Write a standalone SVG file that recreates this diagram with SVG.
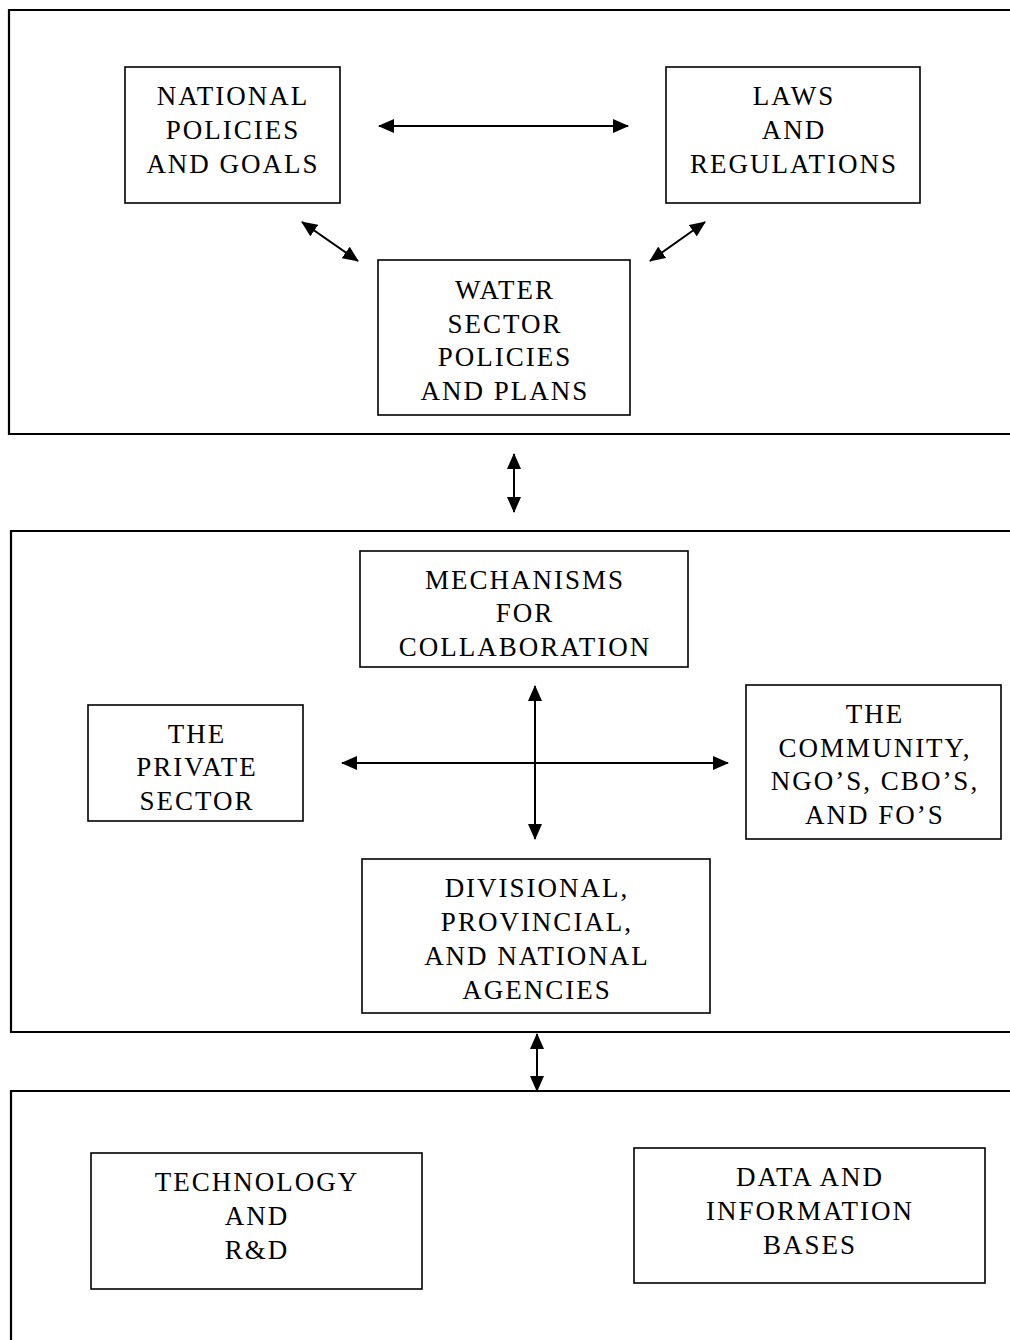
<svg xmlns="http://www.w3.org/2000/svg" width="1010" height="1340" viewBox="0 0 1010 1340">
<defs>
<marker id="ah" viewBox="0 0 16 14" refX="15" refY="7" markerWidth="16" markerHeight="14" markerUnits="userSpaceOnUse" orient="auto-start-reverse">
<path d="M0,0 L16,7 L0,14 Z" fill="#000"/>
</marker>
</defs>
<style>
.panel{fill:none;stroke:#000;stroke-width:2.2}
.box{fill:#fff;stroke:#000;stroke-width:1.6}
.t{font-family:"Liberation Serif","Times New Roman",serif;font-size:27px;letter-spacing:2px;fill:#000;text-anchor:middle}
.c{fill:none;stroke:#000;stroke-width:2;marker-start:url(#ah);marker-end:url(#ah)}
</style>
<rect width="1010" height="1340" fill="#fff"/>
<g id="panels">
<path class="panel" d="M1012,10 L9,10 L9,434 L1012,434"/>
<path class="panel" d="M1012,531 L11,531 L11,1032 L1012,1032"/>
<path class="panel" d="M1012,1091 L11,1091 L11,1342"/>
</g>
<g id="connectors">
<line class="c" x1="379" y1="126" x2="628" y2="126"/>
<line class="c" x1="302" y1="222" x2="358" y2="261"/>
<line class="c" x1="705" y1="222" x2="650" y2="261"/>
<line class="c" x1="514" y1="454" x2="514" y2="512"/>
<line class="c" x1="535" y1="686" x2="535" y2="839"/>
<line class="c" x1="342" y1="763" x2="728" y2="763"/>
<line class="c" x1="537" y1="1034" x2="537" y2="1091"/>
</g>
<g id="national">
<rect class="box" x="125" y="67" width="215" height="136"/>
<text class="t" x="233" y="105">NATIONAL</text>
<text class="t" x="233" y="139">POLICIES</text>
<text class="t" x="233" y="173">AND GOALS</text>
</g>
<g id="laws">
<rect class="box" x="666" y="67" width="254" height="136"/>
<text class="t" x="794" y="105">LAWS</text>
<text class="t" x="794" y="139">AND</text>
<text class="t" x="794" y="173">REGULATIONS</text>
</g>
<g id="water">
<rect class="box" x="378" y="260" width="252" height="155"/>
<text class="t" x="505" y="299">WATER</text>
<text class="t" x="505" y="333">SECTOR</text>
<text class="t" x="505" y="366">POLICIES</text>
<text class="t" x="505" y="400">AND PLANS</text>
</g>
<g id="mechanisms">
<rect class="box" x="360" y="551" width="328" height="116"/>
<text class="t" x="525" y="589">MECHANISMS</text>
<text class="t" x="525" y="622">FOR</text>
<text class="t" x="525" y="656">COLLABORATION</text>
</g>
<g id="private">
<rect class="box" x="88" y="705" width="215" height="116"/>
<text class="t" x="197" y="743">THE</text>
<text class="t" x="197" y="776">PRIVATE</text>
<text class="t" x="197" y="810">SECTOR</text>
</g>
<g id="community">
<rect class="box" x="746" y="685" width="255" height="154"/>
<text class="t" x="875" y="723">THE</text>
<text class="t" x="875" y="757">COMMUNITY,</text>
<text class="t" x="875" y="790">NGO’S, CBO’S,</text>
<text class="t" x="875" y="824">AND FO’S</text>
</g>
<g id="agencies">
<rect class="box" x="362" y="859" width="348" height="154"/>
<text class="t" x="537" y="897">DIVISIONAL,</text>
<text class="t" x="537" y="931">PROVINCIAL,</text>
<text class="t" x="537" y="965">AND NATIONAL</text>
<text class="t" x="537" y="999">AGENCIES</text>
</g>
<g id="technology">
<rect class="box" x="91" y="1153" width="331" height="136"/>
<text class="t" x="257" y="1191">TECHNOLOGY</text>
<text class="t" x="257" y="1225">AND</text>
<text class="t" x="257" y="1259">R&amp;D</text>
</g>
<g id="data">
<rect class="box" x="634" y="1148" width="351" height="135"/>
<text class="t" x="810" y="1186">DATA AND</text>
<text class="t" x="810" y="1220">INFORMATION</text>
<text class="t" x="810" y="1254">BASES</text>
</g>
</svg>
